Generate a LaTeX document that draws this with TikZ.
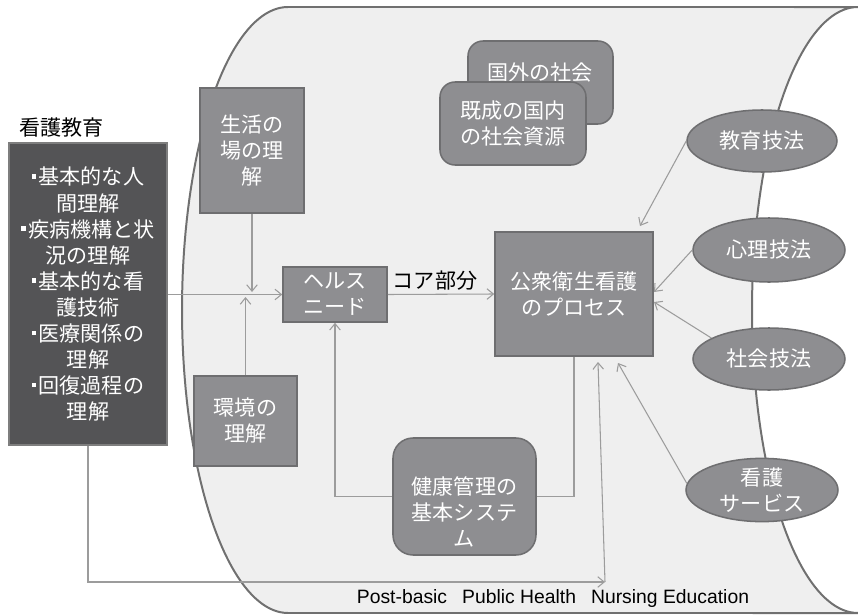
\documentclass[tikz,border=0pt]{standalone}
\usepackage{fontspec}
\setmainfont{Noto Sans CJK JP}
\newfontfamily\engfont{Liberation Sans}
\usetikzlibrary{shapes.geometric,arrows.meta}
\definecolor{bgfill}{HTML}{EFEFEF}
\definecolor{bgline}{HTML}{707070}
\definecolor{boxfill}{HTML}{8E8E91}
\definecolor{boxline}{HTML}{6E6E70}
\definecolor{darkfill}{HTML}{545456}
\definecolor{darkline}{HTML}{7E7E7E}
\definecolor{connc}{HTML}{9C9C9C}
\def\pxu{0.03cm}
\newcommand\sqbul{\rule[0.3em]{0.2em}{0.2em}\hspace{0.12em}}
\begin{document}
\begin{tikzpicture}[x=0.03cm,y=-0.03cm,
  jp/.style={font=\fontsize{18pt}{22.2pt}\selectfont, align=center},
  sqbox/.style={jp, draw=boxline, fill=boxfill, line width=1.3pt, text=white, inner sep=0pt},
  rbox/.style={sqbox, rounded corners=0.45cm},
  oval/.style={jp, ellipse, draw=boxline, fill=boxfill, line width=1.3pt, text=white, inner sep=0pt},
  connline/.style={draw=connc, line width=0.9pt},
  arr/.style={connline, -{Straight Barb[length=5.5pt,width=9pt]}},
]
\useasboundingbox (0,0) rectangle (858,615);
% background cylinder
\path[fill=bgfill, draw=bgline, line width=1.7pt]
  plot[domain=90:270, samples=90] ({288+106*cos(\x)},{310-303*sin(\x)})
  -- plot[domain=90:270, samples=90] ({858+106*cos(\x)},{310+303*sin(\x)})
  -- cycle;

% labels
\node[jp, anchor=west, text=black] (lbl) at (15,128) {看護教育};
\node[jp, text=black] (core) at (435,281) {コア部分};
\node[font=\engfont\fontsize{16.5pt}{20pt}\selectfont, text=black] (eng) at (553,598)
  {Post-basic\hspace{0.5em} Public Health\hspace{0.5em} Nursing Education};

% boxes
\node[sqbox, fill=darkfill, draw=darkline, line width=1.7pt,
      minimum width=158*\pxu, minimum height=302*\pxu] (dark) at (88,294)
  {\sqbul 基本的な人\\間理解\\\sqbul 疾病機構と状\\況の理解\\\sqbul 基本的な看\\護技術\\\sqbul 医療関係の\\理解\\\sqbul 回復過程の\\理解};
\node[sqbox, minimum width=104*\pxu, minimum height=125*\pxu] (seikatsu) at (252,150.5)
  {生活の\\場の理\\解};
\node[sqbox, minimum width=103*\pxu, minimum height=90*\pxu] (kankyo) at (245.5,421)
  {環境の\\理解};
\node[sqbox, minimum width=104*\pxu, minimum height=55*\pxu] (health) at (335,294.5)
  {ヘルス\\ニード};
\node[sqbox, minimum width=158*\pxu, minimum height=124*\pxu] (koshu) at (574,294)
  {公衆衛生看護\\のプロセス};
\node[rbox, minimum width=145*\pxu, minimum height=83*\pxu] (kokugai) at (540.5,82.5) {};
\node[jp, text=white] (kokugait) at (540,73) {国外の社会};
\node[rbox, minimum width=146*\pxu, minimum height=83*\pxu] (kisei) at (513,123.5)
  {既成の国内\\の社会資源};
\node[sqbox, rounded corners=0.6cm, minimum width=143*\pxu, minimum height=117*\pxu] (kenko) at (464.5,496.5) {};
\node[jp, text=white] (kenkot) at (464.5,512) {健康管理の\\基本システ\\ム};

% ellipses
\node[oval, minimum width=150*\pxu, minimum height=62*\pxu] (kyoiku) at (762,141) {教育技法};
\node[oval, minimum width=152*\pxu, minimum height=64*\pxu] (shinri) at (769,250) {心理技法};
\node[oval, minimum width=152*\pxu, minimum height=62*\pxu] (shakai) at (769,359) {社会技法};
\node[oval, minimum width=152*\pxu, minimum height=60*\pxu] (kango) at (762,490) {看護\\サービス};

% connector end points
\coordinate (j1) at (251,292);
\coordinate (j2) at (246,297);
\coordinate (c) at (605,582);
\coordinate (t1) at (598,362);
\coordinate (t2) at (640,226);
\coordinate (t3) at (654,292);
\coordinate (t4) at (654,302);
\coordinate (t5) at (618,363);

% connectors
\draw[arr] (dark.east |- health.west) -- (health.west);
\draw[arr] (seikatsu.south) -- (seikatsu.south |- j1);
\draw[arr] (kankyo.north) -- (kankyo.north |- j2);
\draw[arr] (health.east) -- (koshu.west);
\draw[arr] (kenko.west) -| (health.south);
\draw[connline] (kenko.east) -| (koshu.south);
\draw[arr] (dark.south) |- (c);
\draw[arr] (c) -- (t1);
\draw[arr] (kyoiku.west) -- (t2);
\draw[arr] (shinri.west) -- (t3);
\draw[arr] (shakai.160) -- (t4);
\draw[arr] (kango.175) -- (t5);
\end{tikzpicture}
\end{document}
